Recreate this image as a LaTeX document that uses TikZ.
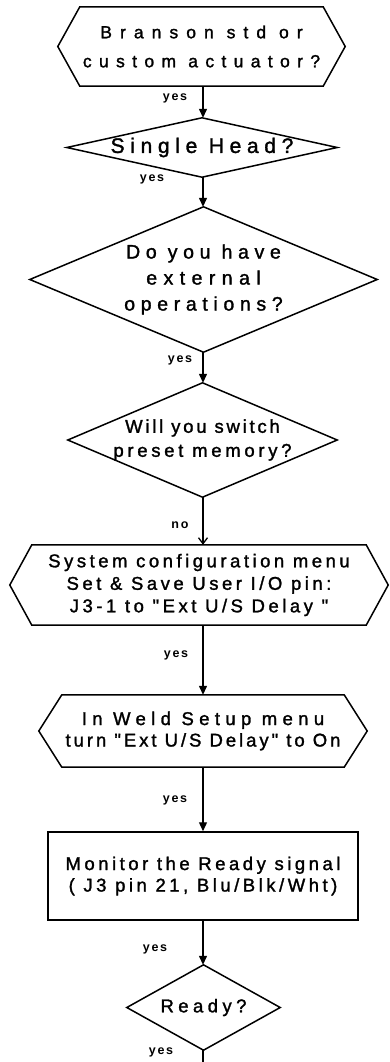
\documentclass[tikz,border=0pt]{standalone}
\usepackage{fontspec}
\setmainfont{Liberation Sans}
% sans face with heavier strokes; tracking is added per line
\newfontfamily\diagfont[RawFeature={embolden=1.5}]{Liberation Sans}
\newfontfamily\answerfont[LetterSpace=14]{Liberation Sans Bold}
\newcommand\trackby[1]{\addfontfeatures{LetterSpace=#1}}
\usetikzlibrary{arrows.meta}

\begin{document}
\begin{tikzpicture}[x=1pt,y=-1pt,
  outline/.style={line width=1.5pt, line join=miter},
  box/.style={rectangle, inner sep=0pt, align=center},
  flow/.style={line width=1.3pt, -{Triangle[length=9pt,width=8pt]}},
  barb/.style={line width=1.3pt, -{Straight Barb[length=6pt,width=9pt]}},
  answer/.style={inner sep=0pt, font=\answerfont\fontsize{12.5}{14}\selectfont}
]
\useasboundingbox (0,0) rectangle (390,1062);
\coordinate (spine) at (203,0);

% decision and process blocks
\node[box, minimum width=287pt, minimum height=79pt,
      font=\diagfont\fontsize{17.5}{29}\selectfont] (q1) at (201.5,46.5)
      {{\trackby{46}Branson std or}\\{\trackby{42}custom actuator?}};
\node[box, minimum width=270pt, minimum height=59pt,
      font=\diagfont\fontsize{21}{24}\selectfont] (q2) at (202,147.5)
      {{\trackby{27}Single Head?}};
\node[box, minimum width=347pt, minimum height=145pt,
      font=\diagfont\fontsize{19.5}{26}\selectfont] (q3) at (203.5,279.5)
      {{\trackby{29}Do you have}\\{\trackby{33}external}\\{\trackby{29}operations?}};
\node[box, minimum width=269pt, minimum height=114pt,
      font=\diagfont\fontsize{18.5}{24}\selectfont] (q4) at (202.5,440)
      {{\trackby{15}Will you switch}\\{\trackby{20}preset memory?}};
\node[box, minimum width=378pt, minimum height=80pt,
      font=\diagfont\fontsize{18.5}{22.5}\selectfont] (q5) at (199,585)
      {{\trackby{19}System configuration menu}\\{\trackby{19}Set \& Save User I/O pin:}\\{\trackby{19}J3-1 to "Ext U/S Delay "}};
\node[box, minimum width=328pt, minimum height=72pt,
      font=\diagfont\fontsize{18.5}{21.5}\selectfont] (q6) at (203,731)
      {{\trackby{29}In Weld Setup menu}\\{\trackby{16}turn "Ext U/S Delay" to On}};
\node[box, draw, outline, minimum width=310pt, minimum height=88pt,
      font=\diagfont\fontsize{18.5}{21.5}\selectfont] (q7) at (203,876)
      {{\trackby{19}Monitor the Ready signal}\\{\trackby{19}( J3 pin 21, Blu/Blk/Wht)}};
\node[box, minimum width=153pt, minimum height=85pt,
      font=\diagfont\fontsize{18.5}{22}\selectfont] (q8) at (203.5,1007.5)
      {{\trackby{24}Ready?}};
\coordinate (exit) at (203,1062);

% hexagonal blocks
\foreach \n/\c in {q1/22, q5/22, q6/23}
  \draw[outline] (\n.west) -- ([xshift=\c pt]\n.north west)
    -- ([xshift=-\c pt]\n.north east) -- (\n.east)
    -- ([xshift=-\c pt]\n.south east) -- ([xshift=\c pt]\n.south west) -- cycle;
% diamonds
\foreach \n in {q2, q3, q4, q8}
  \draw[outline] (\n.north) -- (\n.east) -- (\n.south) -- (\n.west) -- cycle;

% connectors
\draw[flow] (q1.south -| spine) -- (q2.north -| spine);
\draw[flow] (q2.south -| spine) -- (q3.north -| spine);
\draw[flow] (q3.south -| spine) -- (q4.north -| spine);
\draw[barb] (q4.south -| spine) -- (q5.north -| spine);
\draw[flow] (q5.south -| spine) -- (q6.north -| spine);
\draw[flow] (q6.south -| spine) -- (q7.north -| spine);
\draw[flow] (q7.south -| spine) -- (q8.north -| spine);
\draw[line width=1.3pt] (q8.south -| spine) -- (exit);

% branch labels
\node[answer] (a1) at (175,98) {yes};
\node[answer] (a2) at (152,179) {yes};
\node[answer] (a3) at (180,360) {yes};
\node[answer] (a4) at (180,525) {no};
\node[answer] (a5) at (176,655) {yes};
\node[answer] (a6) at (175,800) {yes};
\node[answer] (a7) at (155,949) {yes};
\node[answer] (a8) at (161,1052) {yes};
\end{tikzpicture}
\end{document}
